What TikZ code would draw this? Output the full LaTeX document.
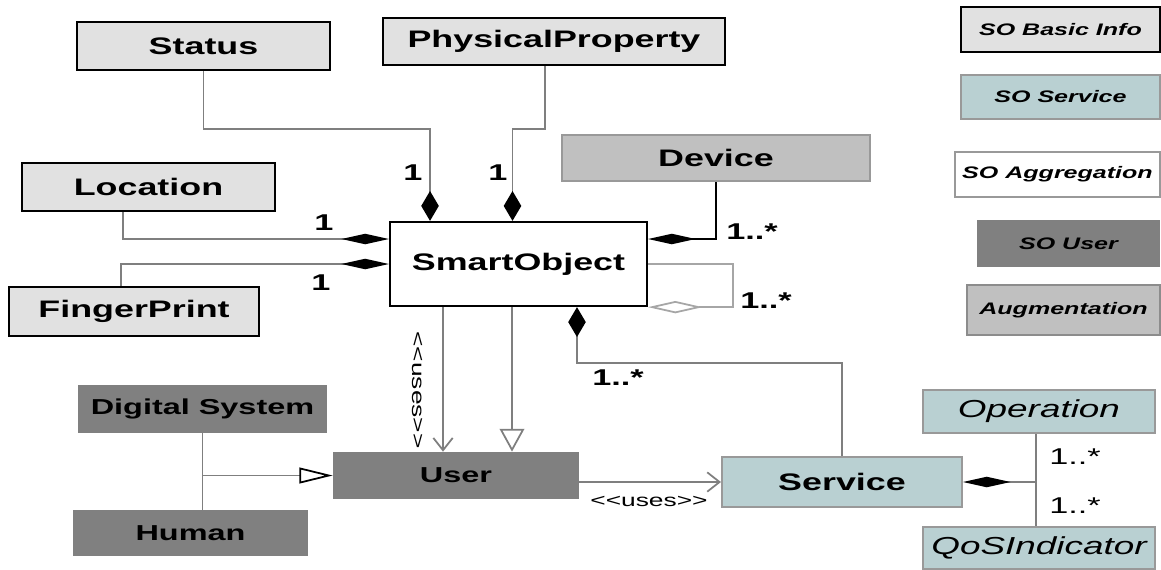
\documentclass[tikz,border=0pt]{standalone}
\usepackage{fontspec}
\setmainfont[FakeStretch=1.5]{Liberation Sans}
\usepackage{tikz}
\usetikzlibrary{arrows.meta}
\definecolor{basicfill}{HTML}{E1E1E1}
\definecolor{augfill}{HTML}{C0C0C0}
\definecolor{userfill}{HTML}{808080}
\definecolor{servfill}{HTML}{B9D0D2}
\definecolor{linegray}{HTML}{7F7F7F}
\begin{document}
\begin{tikzpicture}
  [x=0.02cm,y=-0.02cm,
   every node/.style={inner sep=0pt,text=black},
   vd/.tip={Diamond[length=17pt,width=10pt,color=black]},
   hd/.tip={Diamond[length=27pt,width=6pt,color=black]},
   od/.tip={Diamond[open,length=31pt,width=7pt,fill=white]},
   usetip/.tip={Straight Barb[length=7pt,width=11pt,line width=1pt]},
   gentip/.tip={Triangle[open,length=13pt,width=14pt,fill=white]},
   hgentip/.tip={Triangle[open,length=19pt,width=9pt,fill=white,color=black]},
   basic/.style={draw=black,line width=1.3pt,fill=basicfill,font=\bfseries\fontsize{13.6}{16}\selectfont},
   aug/.style={draw=gray!80,line width=1.2pt,fill=augfill,font=\bfseries\fontsize{13.6}{16}\selectfont},
   usr/.style={fill=userfill,font=\bfseries\fontsize{12.3}{14}\selectfont},
   serv/.style={draw=gray!80,line width=1.2pt,fill=servfill,font=\bfseries\fontsize{13.6}{16}\selectfont},
   op/.style={serv,font=\itshape\fontsize{14}{16}\selectfont},
   legend/.style={font=\bfseries\itshape\fontsize{9.5}{11}\selectfont},
   conn/.style={draw=linegray,line width=1pt},
   mult/.style={font=\bfseries\fontsize{13}{15}\selectfont},
   stereo/.style={font=\fontsize{10}{12}\selectfont}]
  \useasboundingbox (0,0) rectangle (1161,569);

  \node[basic,minimum width=5.06cm,minimum height=0.96cm] (status) at (203.5,46) {Status};
  \node[basic,minimum width=6.84cm,minimum height=0.94cm] (phys) at (554,41.5) {PhysicalProperty};
  \node[basic,minimum width=5.06cm,minimum height=0.96cm] (loc) at (148.5,187) {Location};
  \node[basic,minimum width=5.0cm,minimum height=0.98cm] (finger) at (134,311.5) {FingerPrint};
  \node[draw=black,line width=1.3pt,fill=white,minimum width=5.14cm,minimum height=1.68cm,
        font=\bfseries\fontsize{13.6}{16}\selectfont] (smart) at (518.5,264) {SmartObject};
  \node[aug,minimum width=6.16cm,minimum height=0.92cm] (device) at (716,158) {Device};
  \node[usr,minimum width=4.98cm,minimum height=0.96cm] (digsys) at (202.5,409) {Digital System};
  \node[usr,minimum width=4.7cm,minimum height=0.92cm] (human) at (190.5,533) {Human};
  \node[usr,minimum width=4.92cm,minimum height=0.94cm] (user) at (456,475.5) {User};
  \node[serv,minimum width=4.8cm,minimum height=1.0cm] (service) at (842,482) {Service};
  \node[op,minimum width=4.64cm,minimum height=0.86cm] (oper) at (1039,411.5) {Operation};
  \node[op,minimum width=4.64cm,minimum height=0.84cm] (qos) at (1039,548) {QoSIndicator};

  % legend
  \node[legend,draw=black,line width=1.2pt,fill=basicfill,minimum width=3.98cm,minimum height=0.9cm] (leg1) at (1060.5,29.5) {SO Basic Info};
  \node[legend,draw=gray!80,line width=1.2pt,fill=servfill,minimum width=3.98cm,minimum height=0.88cm] (leg2) at (1060.5,97) {SO Service};
  \node[legend,draw=gray!80,line width=1.2pt,fill=white,minimum width=4.1cm,minimum height=0.9cm] (leg3) at (1057.5,174.5) {SO Aggregation};
  \node[legend,fill=userfill,minimum width=3.66cm,minimum height=0.94cm] (leg4) at (1068.5,243.5) {SO User};
  \node[legend,draw=gray!90,line width=1.2pt,fill=augfill,minimum width=3.86cm,minimum height=1.0cm] (leg5) at (1063.5,310) {Augmentation};

  \draw[conn,-vd] (status.south) -- ++(0,58) -| ([xshift=-1.77cm]smart.north);
  \draw[conn,-vd] ([xshift=-0.18cm]phys.south) -- ++(0,63) -| ([xshift=-0.12cm]smart.north);
  \draw[conn,-hd] ([xshift=-0.51cm]loc.south) |- ([yshift=0.5cm]smart.west);
  \draw[conn,-hd] ([xshift=-0.26cm]finger.north) |- (smart.west);
  \draw[draw=black,line width=0.9pt,-hd] (device.south) |- ([yshift=0.5cm]smart.east);
  \draw[draw=gray!70,line width=1pt,-od] (smart.east) -- ++(85,0) |- (smart.south east);
  \draw[conn,-usetip] ([xshift=-1.51cm]smart.south) -- ([xshift=-1.51cm]smart.south |- user.north);
  \draw[conn,-gentip] ([xshift=-0.13cm]smart.south) -- ([xshift=-0.13cm]smart.south |- user.north);
  \draw[conn,vd-] ([xshift=1.17cm]smart.south) -- ++(0,56) -| (service.north);
  \draw[conn] (digsys.south) -- (digsys.south |- human.north);
  \draw[conn,-hgentip] (digsys.south |- user.west) -- (user.west);
  \draw[conn,-usetip] (user.east |- service.west) -- (service.west);
  \draw[conn] ([xshift=-0.06cm]oper.south) -- ([xshift=-0.06cm]qos.north);
  \draw[conn,hd-] (service.east) -- ([xshift=-0.06cm]service.east -| oper.south);

  \node[mult] (m1) at (413,173) {1};
  \node[mult] (m2) at (498,173) {1};
  \node[mult] (m3) at (324,223) {1};
  \node[mult] (m4) at (321,283) {1};
  \node[mult] (m5) at (752,232) {1..*};
  \node[mult] (m6) at (766,301) {1..*};
  \node[mult] (m7) at (618,378) {1..*};
  \node[font=\fontsize{13}{15}\selectfont] (m8) at (1075,457) {1..*};
  \node[font=\fontsize{13}{15}\selectfont] (m9) at (1075,506) {1..*};
  \node[stereo,rotate=-90] (u1) at (418,390) {<{}<uses>{}>};
  \node[stereo] (u2) at (649,501) {<{}<uses>{}>};
\end{tikzpicture}
\end{document}
